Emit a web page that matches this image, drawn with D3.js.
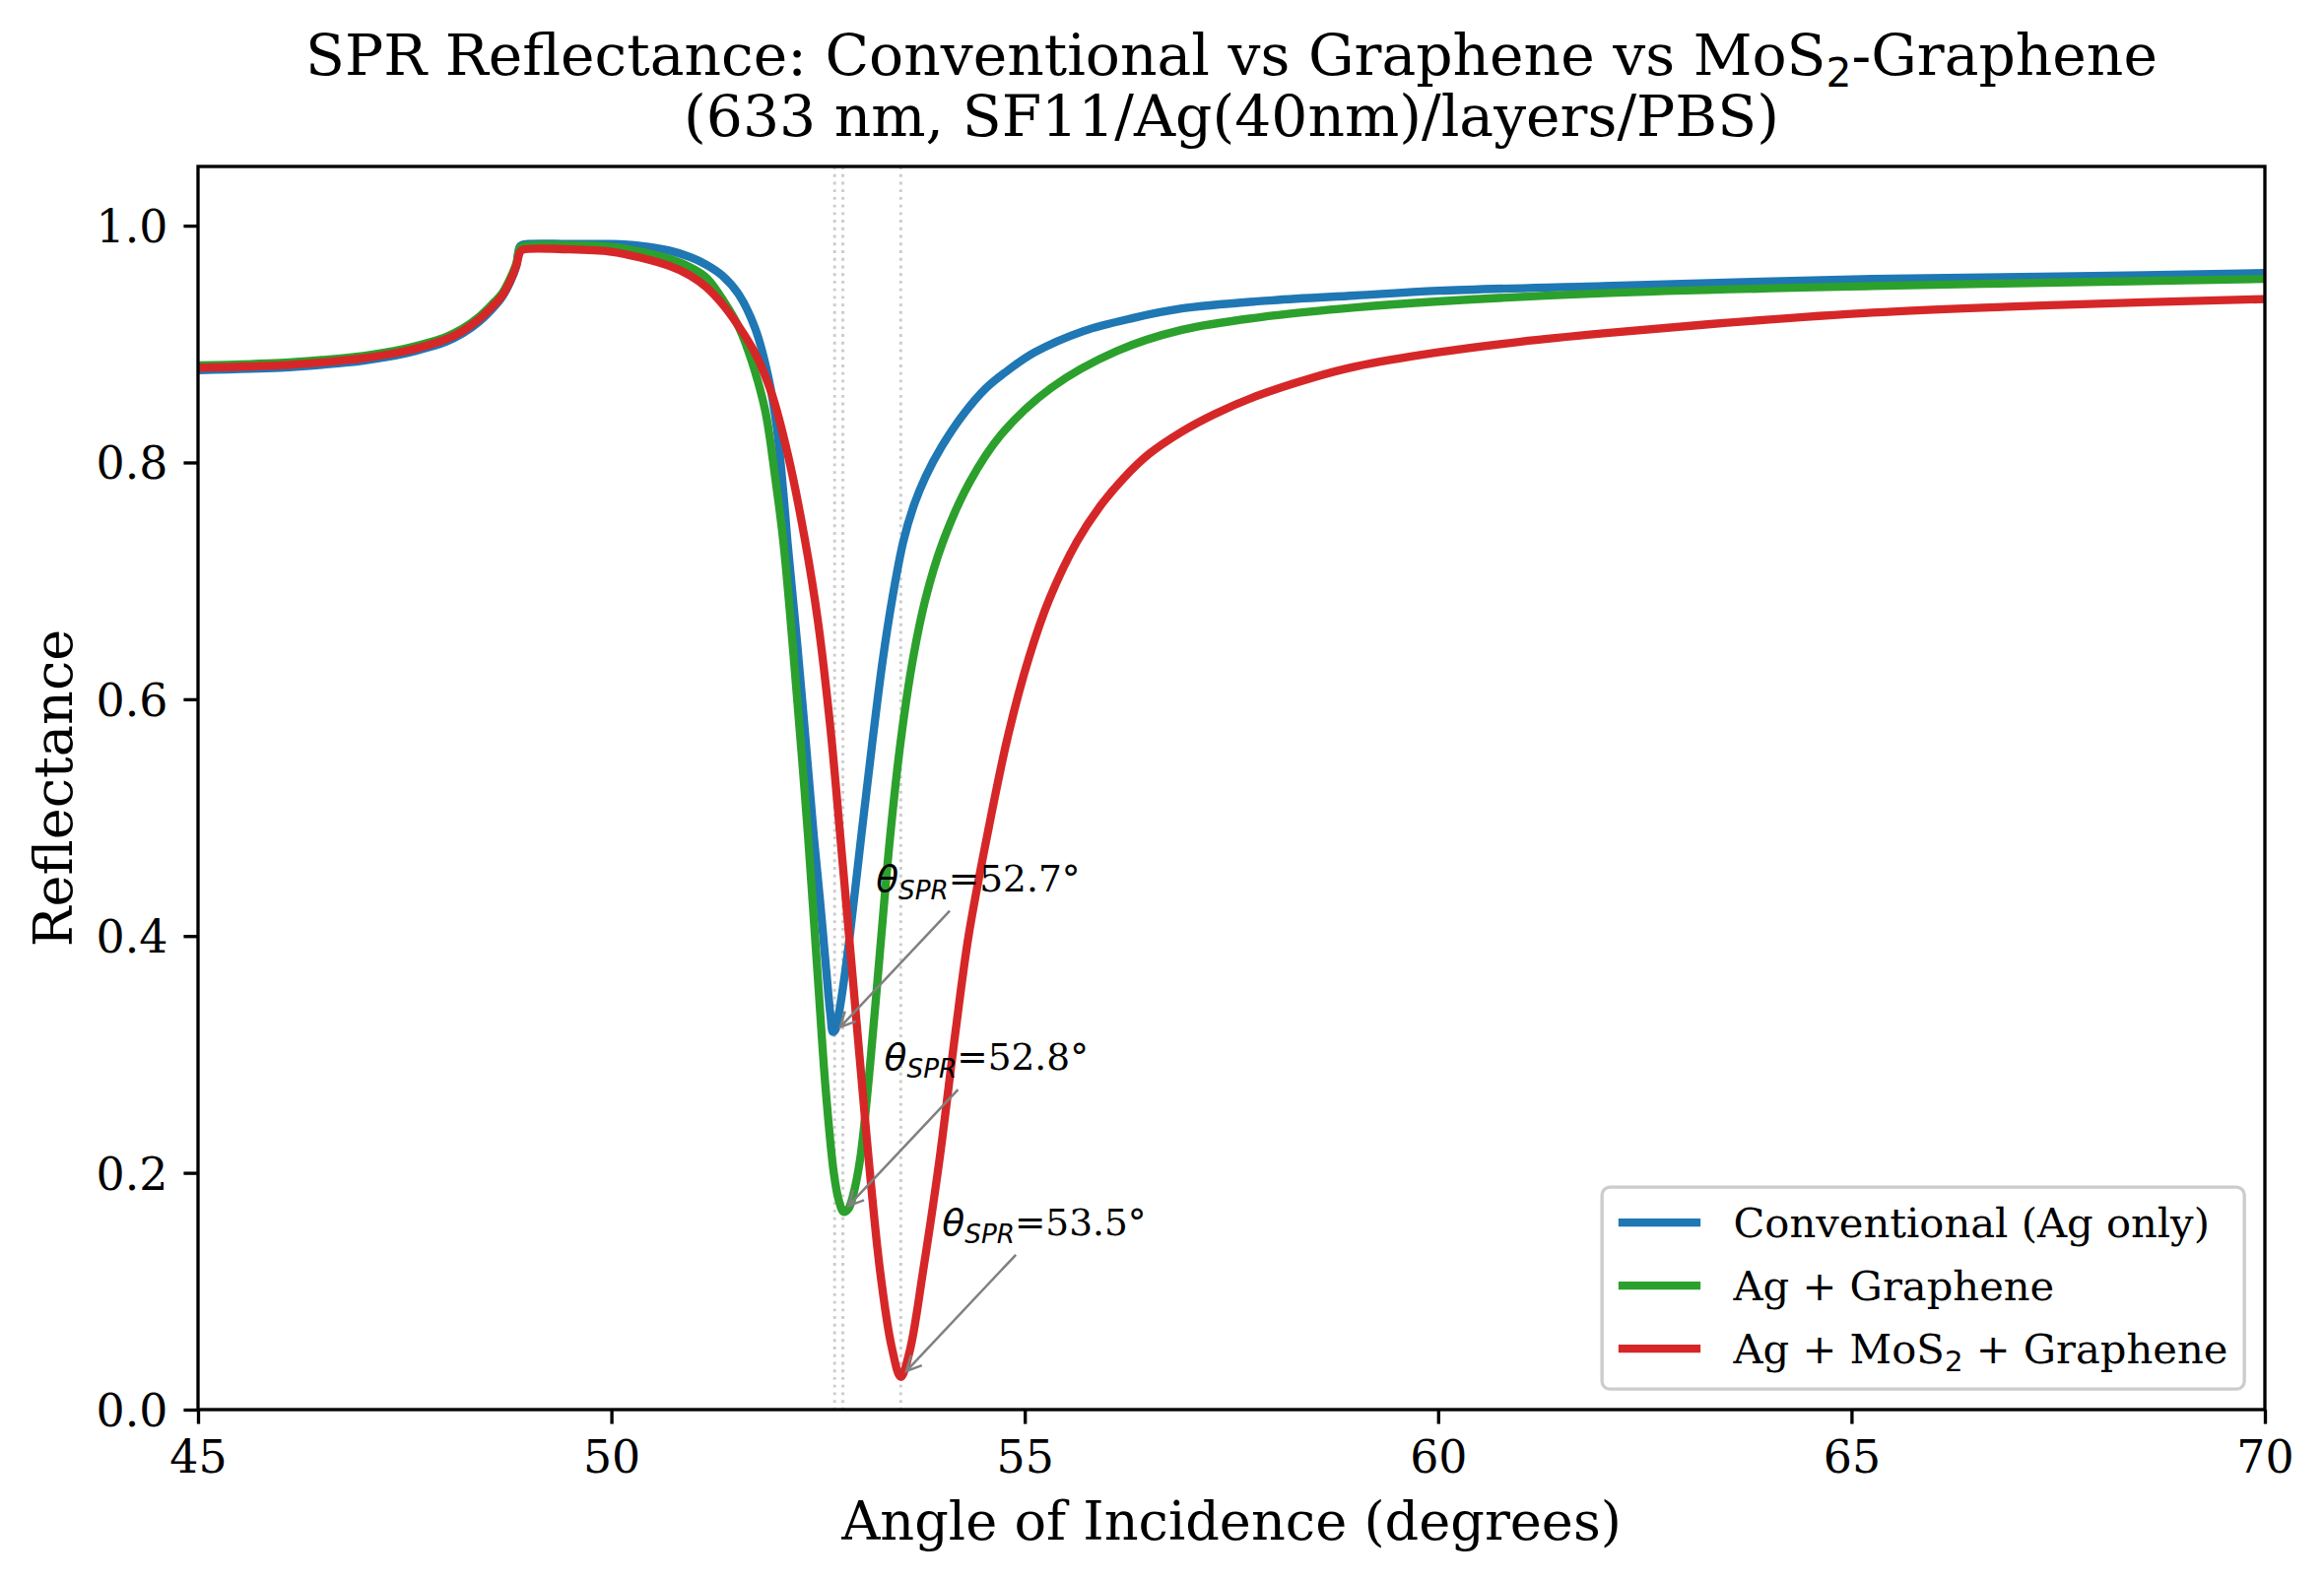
<!DOCTYPE html>
<html>
<head>
<meta charset="utf-8">
<script src="https://cdn.jsdelivr.net/npm/d3@7"></script>
<style>
  body { margin: 0; background: #fff; }
  svg { display: block; font-family: "DejaVu Serif", serif; }
</style>
</head>
<body>
<svg id="svg_spr" width="2359" height="1605"></svg>
<script>
// values (angle in degrees, reflectance 0..1)
var convAngle = [45, 46, 46.5, 47, 47.5, 47.8, 48, 48.2, 48.4, 48.55, 48.68, 48.78, 48.85, 48.89, 48.92, 49.5, 50, 50.35, 50.7, 50.95, 51.15, 51.34, 51.54, 51.74, 51.9, 52, 52.08, 52.13, 52.25, 52.35, 52.45, 52.53, 52.6, 52.65, 52.68, 52.71, 52.75, 52.8, 52.89, 53.02, 53.15, 53.28, 53.4, 53.53, 53.65, 53.8, 54, 54.25, 54.52, 54.8, 55.12, 55.71, 56.31, 56.9, 58, 59, 60, 62, 65.25, 67.5, 70];
var convR = [0.878, 0.880, 0.8825, 0.886, 0.892, 0.8975, 0.902, 0.909, 0.919, 0.929, 0.940, 0.953, 0.966, 0.982, 0.9838, 0.9845, 0.9845, 0.983, 0.979, 0.9735, 0.967, 0.958, 0.942, 0.913, 0.8716, 0.830, 0.7745, 0.733, 0.645, 0.565, 0.483, 0.425, 0.37, 0.333, 0.319, 0.321, 0.334, 0.356, 0.404, 0.483, 0.56, 0.632, 0.686, 0.733, 0.762, 0.788, 0.814, 0.84, 0.862, 0.878, 0.893, 0.911, 0.922, 0.930, 0.937, 0.941, 0.945, 0.949, 0.955, 0.957, 0.960];

var grapAngle = [45, 46, 46.5, 47, 47.5, 47.8, 48, 48.2, 48.4, 48.55, 48.68, 48.78, 48.85, 48.89, 48.92, 49.5, 50, 50.35, 50.7, 50.95, 51.15, 51.38, 51.55, 51.7, 51.86, 51.98, 52.08, 52.2, 52.3, 52.38, 52.5, 52.59, 52.69, 52.75, 52.81, 52.87, 52.92, 53.01, 53.13, 53.25, 53.37, 53.5, 53.65, 53.8, 54.01, 54.33, 54.72, 55.32, 56.11, 56.9, 58, 59, 60, 62, 65.25, 67.5, 70];
var grapR = [0.882, 0.884, 0.8865, 0.890, 0.896, 0.9015, 0.906, 0.913, 0.923, 0.933, 0.943, 0.956, 0.968, 0.981, 0.9825, 0.9835, 0.982, 0.978, 0.972, 0.965, 0.956, 0.934, 0.913, 0.885, 0.844, 0.788, 0.733, 0.64, 0.555, 0.483, 0.362, 0.272, 0.200, 0.177, 0.167, 0.170, 0.180, 0.212, 0.292, 0.388, 0.483, 0.565, 0.635, 0.685, 0.733, 0.783, 0.824, 0.863, 0.894, 0.912, 0.924, 0.931, 0.936, 0.943, 0.949, 0.952, 0.955];

var mosAngle = [45, 46, 46.5, 47, 47.5, 47.8, 48, 48.2, 48.4, 48.55, 48.68, 48.78, 48.85, 48.89, 48.92, 49.5, 50, 50.35, 50.7, 50.95, 51.15, 51.34, 51.54, 51.74, 51.94, 52.14, 52.34, 52.5, 52.65, 52.77, 52.93, 53.09, 53.25, 53.39, 53.5, 53.61, 53.77, 53.97, 54.16, 54.32, 54.56, 54.8, 55.05, 55.3, 55.63, 55.9, 56.2, 56.5, 56.9, 57.3, 57.8, 58.5, 59, 60, 61, 62, 63.5, 65.25, 67.5, 70];
var mosR = [0.880, 0.882, 0.8845, 0.888, 0.894, 0.8995, 0.904, 0.911, 0.921, 0.931, 0.941, 0.954, 0.966, 0.977, 0.9795, 0.980, 0.978, 0.973, 0.966, 0.958, 0.948, 0.934, 0.915, 0.892, 0.858, 0.805, 0.735, 0.665, 0.575, 0.483, 0.356, 0.228, 0.117, 0.053, 0.0275, 0.050, 0.117, 0.212, 0.318, 0.40, 0.49, 0.57, 0.635, 0.685, 0.733, 0.762, 0.787, 0.807, 0.826, 0.841, 0.856, 0.872, 0.881, 0.893, 0.902, 0.909, 0.918, 0.9265, 0.933, 0.938];

var seriesNames = ["Conventional (Ag only)", "Ag + Graphene", "Ag + MoS2 + Graphene"];
var seriesColors = ["#1f77b4", "#2ca02c", "#d62728"];

// resonance angles + dip minimum, one per series
var sprAngle = [52.7, 52.8, 53.5];
var sprMin = [0.318, 0.167, 0.0275];

var xTicks = [45, 50, 55, 60, 65, 70];
var yTicks = [0, 0.2, 0.4, 0.6, 0.8, 1.0];

var titleLine1 = ["SPR Reflectance: Conventional vs Graphene vs MoS", "2", "-Graphene"];
var titleLine2 = "(633 nm, SF11/Ag(40nm)/layers/PBS)";
var xLabel = "Angle of Incidence (degrees)";
var yLabel = "Reflectance";

// sizes are matplotlib points at 300 dpi
var pt = 300 / 72;

var series = [
  {name: seriesNames[0], color: seriesColors[0], data: d3.zip(convAngle, convR)},
  {name: seriesNames[1], color: seriesColors[1], data: d3.zip(grapAngle, grapR)},
  {name: seriesNames[2], color: seriesColors[2], data: d3.zip(mosAngle, mosR)}
];

var svg = d3.select("#svg_spr"),
    margin = {top: 169, right: 60, bottom: 174, left: 201},
    width = +svg.attr("width") - margin.left - margin.right,
    height = +svg.attr("height") - margin.top - margin.bottom;

var g = svg.append("g").attr("transform", "translate(" + margin.left + "," + margin.top + ")");

var xScale = d3.scaleLinear().domain([45, 70]).range([0, width]);
var yScale = d3.scaleLinear().domain([0, 1.05]).range([height, 0]);

g.append("clipPath").attr("id", "plot_clip")
  .append("rect").attr("width", width).attr("height", height);

// dotted markers at each resonance angle
g.selectAll("line.vmark").data(sprAngle)
  .enter()
  .append("line")
  .attr("class", "vmark")
  .attr("x1", function(d) { return xScale(d); })
  .attr("x2", function(d) { return xScale(d); })
  .attr("y1", 0)
  .attr("y2", height)
  .attr("stroke", "#cccccc")
  .attr("stroke-width", 0.7 * pt)
  .attr("stroke-dasharray", (0.7 * pt) + "," + (1.65 * 0.7 * pt));

var line = d3.line()
  .x(function(d) { return xScale(d[0]); })
  .y(function(d) { return yScale(d[1]); })
  .curve(d3.curveCatmullRom.alpha(0.5));

g.append("g").attr("clip-path", "url(#plot_clip)")
  .selectAll("path").data(series)
  .enter()
  .append("path")
  .attr("fill", "none")
  .attr("stroke", function(d) { return d.color; })
  .attr("stroke-width", 2 * pt)
  .attr("stroke-linejoin", "round")
  .attr("stroke-linecap", "square")
  .attr("d", function(d) { return line(d.data); });

// axes
var tickLen = 3.5 * pt;
var xAxis = d3.axisBottom(xScale).tickValues(xTicks).tickSize(tickLen).tickSizeOuter(0).tickPadding(17)
  .tickFormat(d3.format("d"));
var yAxis = d3.axisLeft(yScale).tickValues(yTicks).tickSize(tickLen).tickSizeOuter(0).tickPadding(16)
  .tickFormat(d3.format(".1f"));

var gx = g.append("g").attr("transform", "translate(0," + height + ")").call(xAxis);
var gy = g.append("g").call(yAxis);

[gx, gy].forEach(function(ax) {
  ax.select(".domain").remove();
  ax.selectAll(".tick line").attr("stroke", "#000").attr("stroke-width", 0.8 * pt);
  ax.selectAll(".tick text")
    .attr("fill", "#000")
    .style("font-family", "'DejaVu Serif', serif")
    .style("font-size", (11 * pt) + "px");
});
gy.selectAll(".tick text").attr("dy", "0.36em");

// spines on top of the curves
g.append("rect")
  .attr("width", width)
  .attr("height", height)
  .attr("fill", "none")
  .attr("stroke", "#000")
  .attr("stroke-width", 0.8 * pt);

// annotations with arrows
var annoSize = 9 * pt;
sprAngle.forEach(function(a, i) {
  var tx = xScale(a + 0.5), ty = yScale(sprMin[i] + 0.12);
  var t = g.append("text")
    .attr("x", tx)
    .attr("y", ty)
    .style("font-size", annoSize + "px");
  t.append("tspan").style("font-family", "'DejaVu Sans', sans-serif").style("font-style", "italic").text("θ");
  t.append("tspan").style("font-family", "'DejaVu Sans', sans-serif").style("font-style", "italic")
    .style("font-size", (annoSize * 0.7) + "px").attr("dy", 8).text("SPR");
  t.append("tspan").attr("dy", -8).text("=" + a.toFixed(1) + "°");

  var bb = t.node().getBBox();
  var cx = bb.x + bb.width / 2, cy = bb.y + bb.height / 2;
  var px = xScale(a), py = yScale(sprMin[i]);
  var dx = px - cx, dy = py - cy;
  var len = Math.sqrt(dx * dx + dy * dy);
  var ux = dx / len, uy = dy / len;
  var tEdge = Math.min((bb.width / 2) / Math.abs(dx), (bb.height / 2) / Math.abs(dy)) * len;
  var shrink = 2 * pt;
  var x0 = cx + ux * (tEdge + shrink), y0 = cy + uy * (tEdge + shrink);
  var x1 = px - ux * shrink, y1 = py - uy * shrink;
  var hl = 0.4 * annoSize, hw = 0.2 * annoSize;
  var bx = x1 - ux * hl, by = y1 - uy * hl;

  g.append("path")
    .attr("fill", "none")
    .attr("stroke", "gray")
    .attr("stroke-width", 2.5)
    .attr("d", "M" + x0 + "," + y0 + "L" + x1 + "," + y1 +
      "M" + (bx - uy * hw) + "," + (by + ux * hw) + "L" + x1 + "," + y1 + "L" + (bx + uy * hw) + "," + (by - ux * hw));
});

// legend, lower right
var legSize = 10 * pt;
var legPad = 0.4 * legSize, handleLen = 2 * legSize, handleGap = 0.8 * legSize;
var legend = g.append("g");
var legFrame = legend.append("rect");
var rowY = [36, 100, 164];
var maxW = 0;
series.forEach(function(s, i) {
  legend.append("line")
    .attr("x1", legPad).attr("x2", legPad + handleLen)
    .attr("y1", rowY[i]).attr("y2", rowY[i])
    .attr("stroke", s.color)
    .attr("stroke-width", 2 * pt);
  var lt = legend.append("text")
    .attr("x", legPad + handleLen + handleGap)
    .attr("y", rowY[i] + 15)
    .style("font-size", legSize + "px");
  var parts = s.name.split("MoS2");
  if (parts.length > 1) {
    lt.append("tspan").text(parts[0] + "MoS");
    lt.append("tspan").attr("dy", 8).style("font-family", "'DejaVu Sans', sans-serif")
      .style("font-size", (legSize * 0.7) + "px").text("2");
    lt.append("tspan").attr("dy", -8).text(parts[1]);
  } else {
    lt.text(s.name);
  }
  maxW = Math.max(maxW, lt.node().getComputedTextLength());
});
var legW = legPad + handleLen + handleGap + maxW + legPad;
var legH = 205;
legFrame
  .attr("width", legW)
  .attr("height", legH)
  .attr("rx", 8)
  .attr("fill", "#fff")
  .attr("fill-opacity", 0.8)
  .attr("stroke", "#cccccc")
  .attr("stroke-width", 0.8 * pt);
legend.attr("transform", "translate(" + (width - 0.5 * legSize - legW) + "," + (height - 0.5 * legSize - legH) + ")");

// titles and axis labels
var cxPlot = margin.left + width / 2;
var title = svg.append("text")
  .attr("x", cxPlot)
  .attr("y", 76)
  .attr("text-anchor", "middle")
  .style("font-size", (14 * pt) + "px");
title.append("tspan").text(titleLine1[0]);
title.append("tspan").attr("dy", 12).style("font-family", "'DejaVu Sans', sans-serif")
  .style("font-size", (14 * pt * 0.7) + "px").text(titleLine1[1]);
title.append("tspan").attr("dy", -12).text(titleLine1[2]);

svg.append("text")
  .attr("x", cxPlot)
  .attr("y", 138)
  .attr("text-anchor", "middle")
  .style("font-size", (14 * pt) + "px")
  .text(titleLine2);

svg.append("text")
  .attr("x", cxPlot)
  .attr("y", 1563)
  .attr("text-anchor", "middle")
  .style("font-size", (13 * pt) + "px")
  .text(xLabel);

svg.append("text")
  .attr("transform", "translate(73," + (margin.top + height / 2) + ") rotate(-90)")
  .attr("text-anchor", "middle")
  .style("font-size", (13 * pt) + "px")
  .text(yLabel);
</script>
</body>
</html>
